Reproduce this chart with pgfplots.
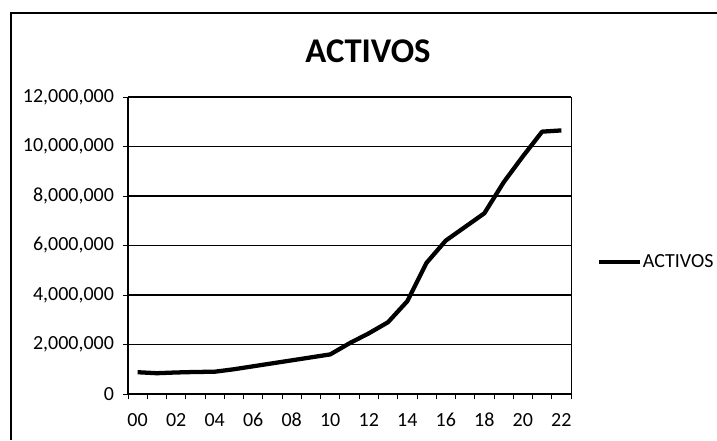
\documentclass[border=0pt]{standalone}
\usepackage{pgfplots}
\pgfplotsset{compat=1.18}
\usepackage{fontspec}
\setmainfont{Carlito}[Numbers=Lining]

\begin{document}
\begin{tikzpicture}
% page = 717 x 440 px, 1 px = 0.75 pt, axis box lower-left at (0,0)
\path[use as bounding box] (-96pt,-34.5pt) rectangle (441.75pt,295.5pt);

\begin{axis}[
    scale only axis,
    width=332.25pt,
    height=222.75pt,
    xmin=-0.5, xmax=22.5,
    ymin=0, ymax=12000000,
    % tick marks between the categories, labels on every second year
    xtick={-0.5,0.5,...,22.5},
    xticklabels={},
    extra x ticks={0,2,...,22},
    extra x tick labels={00,02,04,06,08,10,12,14,16,18,20,22},
    extra x tick style={major tick length=0pt, grid=none},
    ytick={0,2000000,...,12000000},
    scaled y ticks=false,
    /pgf/number format/fixed,
    /pgf/number format/1000 sep={,},
    /pgf/number format/assume math mode=true,
    tick pos=left,
    tick align=outside,
    major tick length=4pt,
    tick style={black, line width=0.6pt},
    ymajorgrids,
    grid style={black, line width=1.3pt},
    axis line style={black, line width=0.6pt},
    tick label style={font=\fontsize{15}{17}\selectfont},
    yticklabel style={xshift=-3pt},
    xticklabel style={yshift=-11pt, text height=10pt, text depth=0pt},
    legend style={at={(rel axis cs:1.058,0.444)}, anchor=west, draw=none,
        fill=none, font=\fontsize{15}{17}\selectfont, inner sep=0pt,
        nodes={inner xsep=0.5pt}},
    legend image code/.code={\draw[#1, line width=3pt] (0pt,0pt) -- (31pt,0pt);},
    legend cell align=left,
]
\addplot[black, line width=3.2pt, line join=round] coordinates {
    (0, 880000)
    (1, 840000)
    (2, 870000)
    (3, 890000)
    (4, 900000)
    (5, 1000000)
    (6, 1120000)
    (7, 1240000)
    (8, 1360000)
    (9, 1480000)
    (10, 1600000)
    (11, 2050000)
    (12, 2450000)
    (13, 2900000)
    (14, 3750000)
    (15, 5300000)
    (16, 6200000)
    (17, 6750000)
    (18, 7300000)
    (19, 8550000)
    (20, 9600000)
    (21, 10600000)
    (22, 10650000)
};
\addlegendentry{ACTIVOS}
\end{axis}

% heavier left and bottom axis lines
\draw[black, line width=1.6pt] (0pt,222.75pt) -- (0pt,0pt) -- (332.25pt,0pt);
% chart title
\node[font=\bfseries\fontsize{26}{30}\selectfont] at (180pt,257pt) {ACTIVOS};
% chart area frame (top and left edges visible)
\draw[black, line width=1.5pt] (441.75pt,285.75pt) -- (-87.75pt,285.75pt) -- (-87.75pt,-34.5pt);
\end{tikzpicture}
\end{document}
